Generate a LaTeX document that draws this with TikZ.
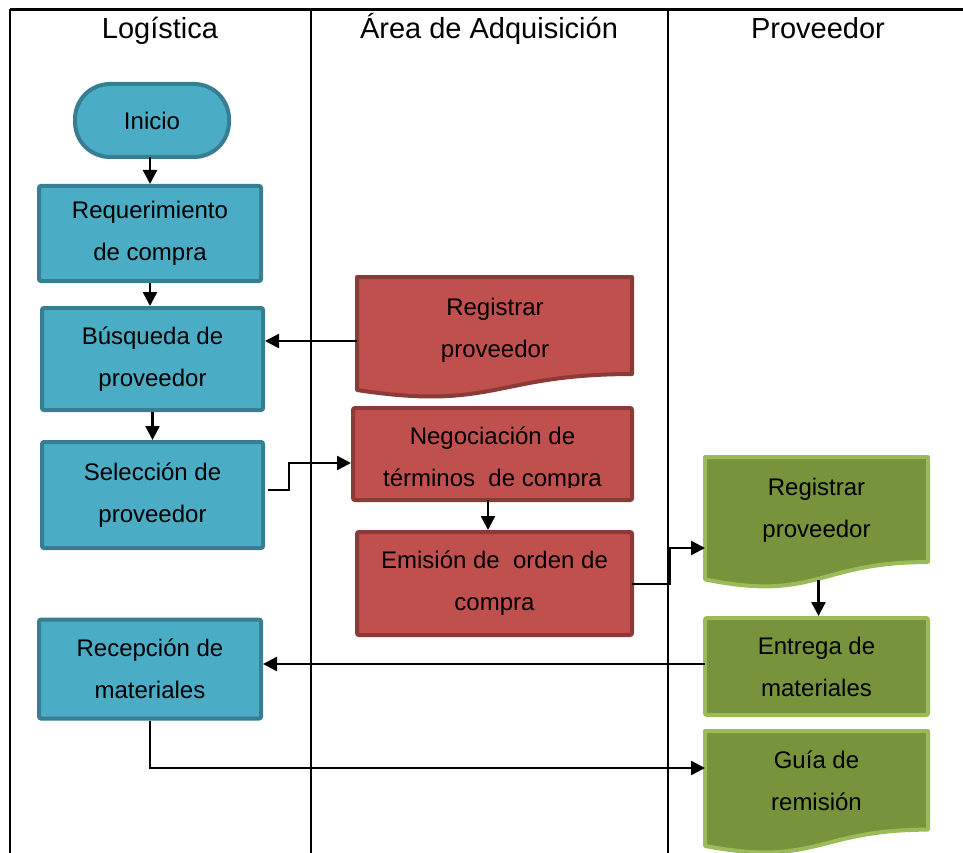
\documentclass[tikz,border=0pt]{standalone}
\usepackage{fontspec}
\setmainfont{Liberation Sans}
\usetikzlibrary{arrows.meta,calc}

\definecolor{bluefill}{HTML}{4BACC6}
\definecolor{blueline}{HTML}{367E92}
\definecolor{redfill}{HTML}{C0504D}
\definecolor{redline}{HTML}{8C3A38}
\definecolor{greenfill}{HTML}{77933C}
\definecolor{greenline}{HTML}{9BBB59}

% document (wavy-bottom) flowchart symbol: #1,#2 top-left, #3,#4 right and bottom extent
\newcommand\docpath[5]{%
  \draw[#5] (#1,#2) -- (#3,#2) -- (#3,{#2+0.802*(#4-#2)})
    .. controls ({(#1+#3)/2},{#2+0.802*(#4-#2)}) and ({(#1+#3)/2},{#2+1.108*(#4-#2)})
    .. (#1,{#2+0.934*(#4-#2)}) -- cycle;}

\begin{document}
\begin{tikzpicture}[x=1pt,y=-1pt,
  lane/.style={line width=2pt},
  boxtext/.style={align=center,font=\fontsize{24}{42}\selectfont,text=black,inner sep=0pt},
  bluebox/.style={boxtext,rectangle,rounded corners=2pt,draw=blueline,fill=bluefill,line width=4pt},
  redbox/.style={boxtext,rectangle,rounded corners=2pt,draw=redline,fill=redfill,line width=4pt},
  greenbox/.style={boxtext,rectangle,rounded corners=2pt,draw=greenline,fill=greenfill,line width=4pt},
  reddoc/.style={draw=redline,fill=redfill,line width=4pt,line join=round},
  greendoc/.style={draw=greenline,fill=greenfill,line width=4pt,line join=round},
  arr/.style={line width=2.5pt,-{Triangle[length=14pt,width=14pt]}},
  head/.style={font=\fontsize{29}{34}\selectfont,inner sep=0pt,anchor=base}]

\useasboundingbox (0,0) rectangle (963,853);

% swimlane frame
\draw[line width=2.6pt] (10,9.5) -- (963,9.5);
\draw[lane] (10.3,9.5) -- (10.3,853);
\draw[lane] (311,9.5) -- (311,853);
\draw[lane] (667.5,9.5) -- (667.5,853);

\node[head] (hLog) at (160,38.5) {Logística};
\node[head] (hAdq) at (489,38.5) {Área de Adquisición};
\node[head] (hProv) at (818,38.5) {Proveedor};

% Logística lane
\node[boxtext,draw=blueline,fill=bluefill,line width=4pt,rounded corners=35pt,
      minimum width=154pt,minimum height=73pt] (ini) at (152,120.5) {Inicio};
\node[bluebox,minimum width=222pt,minimum height=95pt] (req) at (150,233.5) {Requerimiento\\de compra};
\node[bluebox,minimum width=221pt,minimum height=102pt] (bus) at (152.5,359) {Búsqueda de\\proveedor};
\node[bluebox,minimum width=221pt,minimum height=106pt] (sel) at (152.5,495) {Selección de\\proveedor};
\node[bluebox,minimum width=222pt,minimum height=99pt] (rec) at (150,669) {Recepción de\\materiales};

% Área de Adquisición lane
\docpath{357}{277}{632}{398}{reddoc}
\node[boxtext] (regA) at (495,330) {Registrar\\proveedor};
\node[redbox,minimum width=279pt,minimum height=92pt] (neg) at (492.5,454) {};
\begin{scope}
  \clip (353,408) rectangle (632,487);
  \node[boxtext] (negT) at (492.5,459) {Negociación de\\términos\ \ de compra};
\end{scope}
\node[redbox,minimum width=275pt,minimum height=103pt] (emi) at (494.5,583.5) {Emisión de\ \ orden de\\compra};

% Proveedor lane
\docpath{705}{457}{928}{588}{greendoc}
\node[boxtext] (regP) at (816.5,510) {Registrar\\proveedor};
\node[greenbox,minimum width=223pt,minimum height=97pt] (ent) at (816.5,666.5) {Entrega de\\materiales};
\docpath{705}{731}{928}{854}{greendoc}
\node[boxtext] (gui) at (816.5,781) {Guía de\\remisión};

% connectors
\coordinate (iniOut) at (150,157);
\draw[arr] (iniOut) -- (iniOut |- req.north);
\draw[arr] (req.south) -- (req.south |- bus.north);
\draw[arr] (bus.south) -- (sel.north);

\coordinate (regAin) at (357,341);
\draw[arr] (regAin) -- (regAin -| bus.east);

\coordinate (selOut) at (268,490);
\coordinate (negIn) at (289,463);
\draw[arr] (selOut) -- (selOut -| negIn) -- (negIn) -- (negIn -| neg.west);

\coordinate (negOut) at (488,500);
\draw[arr] (negOut) -- (negOut |- emi.north);

\coordinate (emiOut) at (632,584);
\coordinate (regPin) at (705,548);
\draw[arr] (emiOut) -- (670,584) -- (670,548) -- (regPin);

\coordinate (regPout) at (818.5,580);
\draw[arr] (regPout) -- (regPout |- ent.north);

\coordinate (entOut) at (705,664);
\draw[arr] (entOut) -- (entOut -| rec.east);

\coordinate (guiIn) at (705,768);
\draw[arr] (rec.south) -- (rec.south |- guiIn) -- (guiIn);

\end{tikzpicture}
\end{document}
